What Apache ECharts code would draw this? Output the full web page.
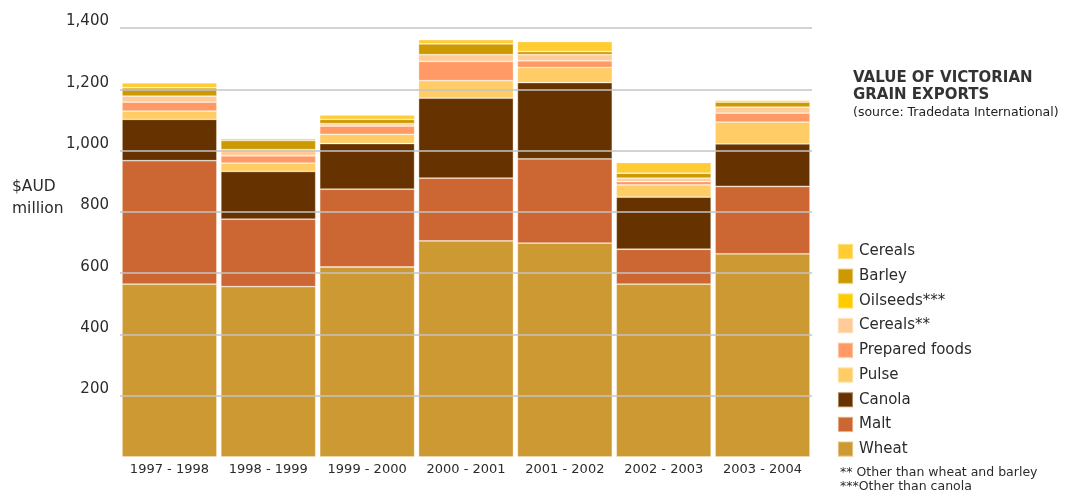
<!DOCTYPE html>
<html>
<head>
<meta charset="utf-8">
<script src="https://cdn.jsdelivr.net/npm/echarts@6/dist/echarts.min.js"></script>
<style>
  html, body { margin: 0; padding: 0; background: #ffffff; }
  #chart { width: 1069px; height: 496px; }
</style>
</head>
<body>
<div id="chart"></div>
<script>
// Financial years
const years = ['1997 - 1998', '1998 - 1999', '1999 - 2000', '2000 - 2001', '2001 - 2002', '2002 - 2003', '2003 - 2004'];

// Export values, $AUD million, listed from the bottom of each stack upward
const wheat         = [564, 556, 620, 705, 698, 564, 663];
const malt          = [403, 220, 254, 205, 275, 114, 220];
const canola        = [135, 156, 149, 261, 249, 170, 139];
const pulse         = [27, 27, 30, 57, 49, 40, 71];
const preparedFoods = [29, 24, 27, 63, 22, 11, 29];
const cerealsOther  = [20, 20, 8, 22, 20, 11, 20];
const oilseeds      = [0, 0, 0, 0, 0, 0, 0];
const barley        = [27, 30, 14, 35, 10, 16, 16];
const cereals       = [16, 6, 14, 14, 33, 35, 6];

// Value axis ticks
const yTicks = [0, 200, 400, 600, 800, 1000, 1200, 1400];

const FONT = '"DejaVu Sans", Verdana, sans-serif';
const TEXT = '#2b2b2b';

const stackDefs = [
  { name: 'Wheat',          data: wheat,         color: '#CC9933' },
  { name: 'Malt',           data: malt,          color: '#CC6633' },
  { name: 'Canola',         data: canola,        color: '#663300' },
  { name: 'Pulse',          data: pulse,         color: '#FFCC66' },
  { name: 'Prepared foods', data: preparedFoods, color: '#FF9966' },
  { name: 'Cereals**',      data: cerealsOther,  color: '#FFCC99' },
  { name: 'Oilseeds***',    data: oilseeds,      color: '#FFCC00' },
  { name: 'Barley',         data: barley,        color: '#CC9900' },
  { name: 'Cereals',        data: cereals,       color: '#FFCC33' }
];

const series = stackDefs.map(d => ({
  name: d.name,
  type: 'bar',
  stack: 'exports',
  data: d.data,
  barCategoryGap: '4%',
  itemStyle: { color: d.color, borderColor: 'rgba(255,245,220,0.45)', borderWidth: 0.8 },
  emphasis: { disabled: true }
}));

const chart = echarts.init(document.getElementById('chart'), null, { renderer: 'canvas' });

chart.setOption({
  animation: false,
  backgroundColor: '#ffffff',
  title: {
    text: 'VALUE OF VICTORIAN\nGRAIN EXPORTS',
    subtext: '(source: Tradedata International)',
    left: 853,
    top: 70,
    padding: 0,
    itemGap: 1,
    textStyle: { fontFamily: FONT, fontSize: 15, fontWeight: 'bold', color: '#333333', lineHeight: 17 },
    subtextStyle: { fontFamily: FONT, fontSize: 12.5, color: '#222222', lineHeight: 15 }
  },
  legend: {
    orient: 'vertical',
    left: 837,
    top: 243,
    padding: 0,
    itemWidth: 15,
    itemHeight: 15,
    itemGap: 7.7,
    icon: 'rect',
    selectedMode: false,
    data: ['Cereals', 'Barley', 'Oilseeds***', 'Cereals**', 'Prepared foods', 'Pulse', 'Canola', 'Malt', 'Wheat'],
    textStyle: { fontFamily: FONT, fontSize: 15, color: TEXT, padding: [0, 0, 0, 1] }
  },
  grid: { left: 120, right: 257, top: 28, bottom: 39, containLabel: false },
  xAxis: {
    type: 'category',
    data: years,
    axisLine: { show: false },
    axisTick: { show: false },
    axisLabel: { interval: 0, fontFamily: FONT, fontSize: 13, color: TEXT, margin: 6 }
  },
  yAxis: {
    type: 'value',
    min: yTicks[0],
    max: yTicks[yTicks.length - 1],
    interval: yTicks[1] - yTicks[0],
    z: 10,
    axisLine: { show: false },
    axisTick: { show: false },
    splitLine: { show: true, showMinLine: false, lineStyle: { color: '#c4c4c4', width: 1.5 } },
    axisLabel: {
      fontFamily: FONT,
      fontSize: 15,
      color: TEXT,
      margin: 11,
      verticalAlign: 'bottom',
      lineHeight: 13,
      formatter: v => (v === 0 ? '' : v.toLocaleString('en-US'))
    }
  },
  graphic: [
    { type: 'text', left: 12, top: 179, style: { text: '$AUD', font: '15.5px ' + FONT, fill: TEXT } },
    { type: 'text', left: 12, top: 201, style: { text: 'million', font: '15.5px ' + FONT, fill: TEXT } },
    { type: 'text', left: 840, top: 466, style: { text: '** Other than wheat and barley', font: '12.5px ' + FONT, fill: TEXT } },
    { type: 'text', left: 840, top: 480, style: { text: '***Other than canola', font: '12.5px ' + FONT, fill: TEXT } }
  ],
  series: series
});
</script>
</body>
</html>
